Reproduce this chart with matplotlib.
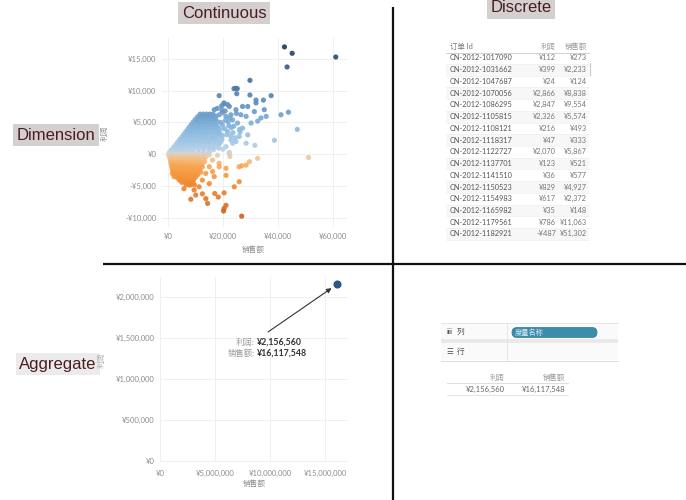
import numpy as np
import matplotlib
matplotlib.use("Agg")
import matplotlib.pyplot as plt
from matplotlib.colors import LinearSegmentedColormap, Normalize

# ---------------- data ----------------
# Dense wedge of the disaggregated scatter (profit level in k -> sales values in k)
blue_rows = [
    (0.3, [0.5, 1.5, 2.5, 4, 5.5, 7, 9, 11, 13, 15]),
    (0.7, [1.2, 2.2, 3.3, 4.6, 6, 7.5, 9.2, 11, 12.8, 14.8, 16.5]),
    (1.1, [2, 3, 4.1, 5.3, 6.6, 8, 9.6, 11.3, 13, 14.7, 16.4, 18]),
    (1.5, [2.8, 3.8, 4.9, 6, 7.3, 8.6, 10, 11.6, 13.2, 14.9, 16.6, 18.4]),
    (1.9, [3.5, 4.5, 5.6, 6.8, 8, 9.3, 10.7, 12.2, 13.8, 15.4, 17.1, 19]),
    (2.3, [4.2, 5.2, 6.3, 7.5, 8.7, 10, 11.4, 12.9, 14.4, 16, 17.7, 19.6]),
    (2.7, [5, 6, 7.1, 8.3, 9.5, 10.8, 12.2, 13.6, 15.1, 16.7, 18.4]),
    (3.1, [5.7, 6.7, 7.8, 9, 10.2, 11.5, 12.9, 14.3, 15.8, 17.4, 19.2]),
    (3.5, [6.4, 7.4, 8.5, 9.7, 11, 12.3, 13.7, 15.1, 16.6, 18.2]),
    (3.9, [7.1, 8.1, 9.2, 10.4, 11.7, 13, 14.4, 15.8, 17.3, 18.9]),
    (4.3, [7.8, 8.8, 9.9, 11.1, 12.4, 13.7, 15.1, 16.5, 18]),
    (4.7, [8.5, 9.5, 10.6, 11.8, 13.1, 14.4, 15.8, 17.2]),
    (5.1, [9.2, 10.3, 11.4, 12.6, 13.9, 15.2, 16.6, 18]),
    (5.5, [10, 11.1, 12.2, 13.4, 14.7, 16, 17.3]),
    (5.9, [10.8, 11.9, 13.1, 14.3, 15.5, 16.8]),
    (6.3, [11.7, 12.8, 14, 15.2, 16.4]),
    (0.0, [0.2, 1, 2, 3.2, 4.5, 6, 7.5, 9, 10.5, 12, 13.5]),
]
orange_rows = [
    (-0.4, [0.5, 1.5, 2.6, 3.8, 5, 6.3, 7.7, 9.2, 10.7, 12.2, 13.8]),
    (-0.8, [0.8, 1.8, 2.9, 4.1, 5.4, 6.8, 8.3, 9.8, 11.4, 13]),
    (-1.2, [1, 2, 3.1, 4.3, 5.6, 7, 8.5, 10, 11.6, 13.3]),
    (-1.6, [1.2, 2.2, 3.4, 4.7, 6, 7.4, 8.9, 10.5, 12.2]),
    (-2.0, [1.4, 2.5, 3.7, 5, 6.4, 7.9, 9.4, 11, 12.5]),
    (-2.4, [1.6, 2.8, 4.1, 5.5, 6.9, 8.4, 9.9, 11.4]),
    (-2.8, [1.9, 3.2, 4.5, 5.9, 7.4, 8.9, 10.4, 11.9]),
    (-3.2, [2.5, 3.7, 5, 6.4, 7.9, 9.4, 10.8]),
    (-3.6, [3.2, 4.3, 5.6, 7, 8.5, 10]),
    (-4.0, [4, 5.1, 6.4, 7.8, 9.3]),
    (-4.4, [5, 6.3, 7.7, 9.1]),
    (-4.8, [6.6, 8.1, 9.6]),
]
# Sparse points (sales k, profit k)
sparse_sales = [42.35, 45.15, 43.3, 61.0, 29.8, 24.0, 24.7, 25.2, 18.6, 29.8, 37.5, 25.0,
                32.0, 34.7, 41.1, 43.8, 47.0, 38.7, 51.1, 31.6, 22.3, 26.8, 29.6, 32.6,
                15.0, 16.2, 18.6, 21.7, 22.9, 24.7, 25.9, 28.4, 29.0, 27.1, 25.3, 23.5,
                21.1, 28.4, 31.4, 32.6, 33.8, 35.7, 30.2, 32.0, 35.0, 29.0, 27.1, 26.5,
                24.7, 22.3, 20.4, 21.7, 22.9, 19.8, 18.6, 17.4, 16.8, 15.0, 17.4, 19.8,
                16.2, 18.6, 21.1, 23.5, 15.0, 18.0, 22.3, 22.5, 16.2, 18.6, 21.1, 15.0,
                13.75, 16.2, 16.8, 12.5, 15.0, 11.3, 9.5, 7.7, 5.8, 10.1, 12.5, 13.75,
                14.4, 8.3, 17.0, 20.4, 18.3, 25.9, 24.1, 21.1, 18.6, 25.9, 28.4, 20.4,
                20.2, 21.1, 26.8, 1.6, 2.2, 4.6, 19.5, 20.3, 26.0, 23.0,
                19.8, 20.6, 21.4, 19.2, 20.9, 22.1, 23.6, 24.4, 18.9, 17.8, 20.0, 22.8,
                23.9, 26.2, 24.9, 21.9, 19.6, 17.9, 20.8, 22.4]
sparse_profit = [16.84, 15.84, 13.7, 15.26, 11.6, 10.3, 10.35, 10.3, 9.2, 9.3, 9.2, 9.5,
                 8.5, 8.5, 6.2, 6.6, 3.9, 2.2, -0.5, 1.4, 0.3, -1.8, -1.16, -0.63,
                 2.26, 2.79, 3.32, 3.58, 2.26, 2.0, 2.79, 1.74, 3.05, 4.1, 4.9, 5.4,
                 5.95, 5.95, 6.7, 5.2, 5.7, 5.95, 4.9, 8.05, 7.0, 7.5, 7.5, 6.2,
                 7.0, 7.5, 8.05, 7.8, 6.2, 6.5, 6.2, 5.95, 7.0, 6.2, 4.4, 4.6,
                 1.2, 0.95, 1.2, 1.74, -0.1, -0.15, 0.15, -0.35, -0.9, -1.4, -2.2, -1.95,
                 -3.0, -2.7, -3.5, -4.05, -4.6, -5.1, -5.6, -4.8, -5.4, -6.4, -6.2, -6.95,
                 -7.7, -7.05, -6.15, -6.05, -6.7, -4.3, -5.1, -3.3, -1.95, -1.95, -1.7, -8.5,
                 -8.9, -8.0, -9.7, -3.0, -3.5, -4.05, 7.6, 7.9, 3.9, 4.2,
                 2.9, 4.0, 3.1, 5.0, 5.3, 4.5, 3.4, 2.6, 1.8, 3.9, 0.8, 2.9,
                 4.4, 3.5, 6.4, 5.1, 6.9, 7.2, 6.8, 5.7]

# Aggregate values
agg_sales = 16117548
agg_profit = 2156560

# Table values
order_ids = ["CN-2012-1017090", "CN-2012-1031662", "CN-2012-1047687", "CN-2012-1070056",
             "CN-2012-1086295", "CN-2012-1105815", "CN-2012-1108121", "CN-2012-1118317",
             "CN-2012-1122727", "CN-2012-1137701", "CN-2012-1141510", "CN-2012-1150523",
             "CN-2012-1154983", "CN-2012-1165982", "CN-2012-1179561", "CN-2012-1182921"]
order_profit = [112, 399, 24, 2866, 2847, 2326, 216, 47, 2070, 123, 36, 829, 617, 35, 786, -487]
order_sales = [273, 2233, 124, 8838, 9554, 5574, 493, 333, 5867, 521, 577, 4927, 2372, 148, 11063, 51302]

top_xticks = [0, 20000, 40000, 60000]
top_yticks = [-10000, -5000, 0, 5000, 10000, 15000]
bot_xticks = [0, 5000000, 10000000, 15000000]
bot_yticks = [0, 500000, 1000000, 1500000, 2000000]

# ---------------- style ----------------
FAM = ['Lato', 'Noto Sans CJK SC', 'DejaVu Sans']
plt.rcParams['font.family'] = FAM
W, H = 686, 500
fig = plt.figure(figsize=(W / 100, H / 100), dpi=100)
fig.patch.set_facecolor('white')

def yen(v):
    return ("-¥" if v < 0 else "¥") + f"{abs(v):,}"

nodes = [(-17, '#9c3d0a'), (-9.7, '#cf5f1f'), (-5, '#f0862c'), (-2, '#f9a44c'),
         (-0.6, '#f3c392'), (0, '#d8d2c6'), (0.6, '#bcd3e6'), (2, '#a2c7e6'),
         (4, '#89b8de'), (7, '#6497c6'), (10, '#4c7cae'), (14, '#2f5a88'), (17, '#1d3557')]
cmap = LinearSegmentedColormap.from_list('ob', [((v + 17) / 34, c) for v, c in nodes])
norm = Normalize(-17000, 17000)

def rect(x0, y0, x1, y1):
    return [x0 / W, 1 - y1 / H, (x1 - x0) / W, (y1 - y0) / H]

def style_axes(ax):
    for s in ax.spines.values():
        s.set_visible(False)
    ax.grid(True, color='#efefef', lw=0.7)
    ax.set_axisbelow(True)
    ax.tick_params(length=0, labelsize=5.5, labelcolor='#8c8c8c', pad=4)

# ---------------- top scatter ----------------
ax1 = fig.add_axes(rect(162, 38, 347, 227))
style_axes(ax1)
xs, ys = [], []
for p, sl in blue_rows + orange_rows:
    for s in sl:
        xs.append(s * 1000)
        ys.append(p * 1000)
for s, p in zip(sparse_sales, sparse_profit):
    xs.append(s * 1000)
    ys.append(p * 1000)
xs = np.array(xs); ys = np.array(ys)
ax1.scatter(xs, ys, c=ys, cmap=cmap, norm=norm, s=14, lw=0, alpha=0.9)
ax1.set_xlim(-2182, 65090)
ax1.set_ylim(-11400, 18240)
ax1.set_xticks(top_xticks)
ax1.set_xticklabels([yen(v) for v in top_xticks])
ax1.set_yticks(top_yticks)
ax1.set_yticklabels([yen(v) for v in top_yticks])

# ---------------- bottom scatter ----------------
ax2 = fig.add_axes(rect(160, 277, 348, 462))
style_axes(ax2)
ax2.scatter([agg_sales], [agg_profit], s=34, color='#2a5783', lw=0, zorder=3)
ax2.set_xlim(0, 17090000)
ax2.set_ylim(-12000, 2244000)
ax2.set_xticks(bot_xticks)
ax2.set_xticklabels([yen(v) for v in bot_xticks])
ax2.set_yticks(bot_yticks)
ax2.set_yticklabels([yen(v) for v in bot_yticks])
ax2.tick_params(axis='x', pad=6)
ax2.annotate('', xy=(agg_sales, agg_profit), xycoords='data',
             xytext=(268 / W, 1 - 332 / H), textcoords='figure fraction',
             arrowprops=dict(arrowstyle='-|>', color='#333333', lw=0.8,
                             shrinkA=0, shrinkB=5, mutation_scale=7))

# ---------------- overlay (pixel coordinates) ----------------
ov = fig.add_axes([0, 0, 1, 1])
ov.set_xlim(0, W); ov.set_ylim(H, 0); ov.axis('off')

def T(x, y, s, **kw):
    kw.setdefault('family', FAM)
    ov.text(x, y, s, **kw)

# dividing lines
ov.plot([393, 393], [7, 500], color='#111111', lw=1.6, solid_capstyle='butt')
ov.plot([103, 686], [264, 264], color='#111111', lw=1.6, solid_capstyle='butt')

# section titles
tcol = '#4a1d22'
for x, y, s, bg in [(224, 13, 'Continuous', '#d4d0d0'), (521, 8, 'Discrete', '#d4d0d0'),
                    (56, 135, 'Dimension', '#d4d0d0'), (58, 364, 'Aggregate', '#ecebeb')]:
    ov.text(x, y, s, fontsize=12, family=['Liberation Sans', 'DejaVu Sans'], color=tcol,
            ha='center', va='center',
            bbox=dict(boxstyle='square,pad=0.2', fc=bg, ec='none'))

# axis titles
T(253, 249, '销售额', fontsize=5.5, color='#8c8c8c', ha='center', va='center')
T(104, 133, '利润', fontsize=5.5, color='#8c8c8c', ha='center', va='center', rotation=90)
T(254, 483, '销售额', fontsize=5.5, color='#8c8c8c', ha='center', va='center')
T(101, 360, '利润', fontsize=5.5, color='#b0b0b0', ha='center', va='center', rotation=90)

# annotation text
T(255, 342, '利润:', fontsize=6, color='#9a9a9a', ha='right', va='center')
T(257, 342, yen(agg_profit), fontsize=6.3, color='#333333', ha='left', va='center', weight='bold')
T(255, 353, '销售额:', fontsize=6, color='#9a9a9a', ha='right', va='center')
T(257, 353, yen(agg_sales), fontsize=6.3, color='#333333', ha='left', va='center', weight='bold')

# ---------------- table (top right) ----------------
row_y0, row_dy = 58, 11.73
for i in range(len(order_ids)):
    y = row_y0 + i * row_dy
    if i % 2 == 1:
        ov.add_patch(plt.Rectangle((446, y - row_dy / 2), 143, row_dy, fc='#f7f7f7', ec='none'))
    ov.plot([446, 589], [y + row_dy / 2, y + row_dy / 2], color='#efefef', lw=0.5)
ov.plot([446, 589], [52.5, 52.5], color='#d0d0d0', lw=0.7)
ov.plot([589.5, 589.5], [63, 75], color='#c8c8c8', lw=0.8)
T(450, 46, '订单 Id', fontsize=5.3, color='#777777', ha='left', va='center')
T(556, 46, '利润', fontsize=5.3, color='#999999', ha='right', va='center')
T(587, 46, '销售额', fontsize=5.3, color='#999999', ha='right', va='center')
for i, (oid, p, s) in enumerate(zip(order_ids, order_profit, order_sales)):
    y = row_y0 + i * row_dy
    T(450, y, oid, fontsize=5.3, color='#555555', ha='left', va='center')
    T(556, y, yen(p), fontsize=5.3, color='#777777', ha='right', va='center')
    T(587, y, yen(s), fontsize=5.3, color='#777777', ha='right', va='center')

# ---------------- shelf panel + small table (bottom right) ----------------
ov.add_patch(plt.Rectangle((441, 323), 177, 16, fc='#fafafa', ec='none'))
ov.add_patch(plt.Rectangle((441, 339), 177, 4, fc='#e9e9e9', ec='none'))
ov.add_patch(plt.Rectangle((441, 343), 177, 17, fc='#fafafa', ec='none'))
ov.plot([441, 618], [323, 323], color='#e3e3e3', lw=0.6)
ov.plot([441, 618], [360.5, 360.5], color='#d8d8d8', lw=0.6)
ov.plot([507, 507], [323, 339], color='#e3e3e3', lw=0.6)
ov.plot([507, 507], [343, 360], color='#e3e3e3', lw=0.6)
ov.add_patch(matplotlib.patches.FancyBboxPatch((512, 327.5), 85, 10, boxstyle='round,pad=0,rounding_size=5',
                                               fc='#3e8cab', ec='#2f7595', lw=0.5))
T(515, 332.5, '度量名称', fontsize=5.2, color='#d8ecf5', ha='left', va='center')
T(447, 331, 'iii', fontsize=5.5, color='#555555', ha='left', va='center', weight='bold')
T(457, 331, '列', fontsize=5.5, color='#555555', ha='left', va='center')
T(446, 351, '☰', fontsize=5.5, color='#555555', ha='left', va='center')
T(457, 351, '行', fontsize=5.5, color='#555555', ha='left', va='center')

T(505, 377, '利润', fontsize=5.3, color='#999999', ha='right', va='center')
T(565, 377, '销售额', fontsize=5.3, color='#999999', ha='right', va='center')
ov.plot([447, 568], [383, 383], color='#d8d8d8', lw=0.6)
T(505, 389, yen(agg_profit), fontsize=5.5, color='#666666', ha='right', va='center')
T(565, 389, yen(agg_sales), fontsize=5.5, color='#666666', ha='right', va='center')
ov.plot([447, 568], [394.5, 394.5], color='#e0e0e0', lw=0.6)

fig.savefig('out.png', dpi=100, facecolor='white')
